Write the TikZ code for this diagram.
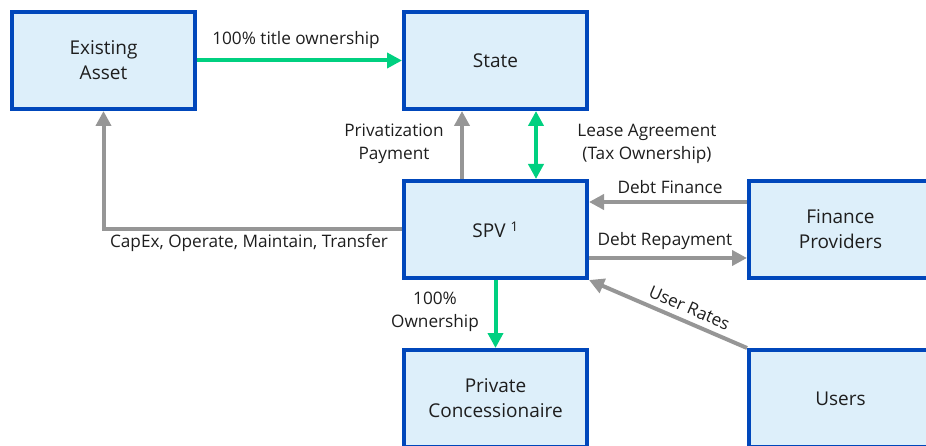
\documentclass[tikz,border=0pt]{standalone}
\usepackage{fontspec}
\setmainfont{Open Sans}
\usetikzlibrary{arrows.meta}
\definecolor{boxblue}{RGB}{0,71,187}
\definecolor{boxfill}{RGB}{221,239,250}
\definecolor{flowgray}{RGB}{150,150,150}
\definecolor{flowgreen}{RGB}{0,208,128}
\definecolor{inktext}{RGB}{30,30,30}
\begin{document}
\begin{tikzpicture}[x=1pt,y=-1pt,
  box/.style={draw=boxblue, line width=4pt, fill=boxfill,
    minimum width=183pt, minimum height=97pt, inner sep=0pt,
    align=center, text=inktext, font=\fontsize{19}{25}\selectfont},
  lbl/.style={align=center, text=inktext, inner sep=1pt,
    font=\fontsize{17.2}{23}\selectfont},
  flow/.style={line width=4pt, -{Triangle[length=15pt,width=15pt]}},
  twoway/.style={line width=4pt, {Triangle[length=15pt,width=15pt]}-{Triangle[length=15pt,width=15pt]}}]
\useasboundingbox (0,0) rectangle (926,446);
\clip (0,0) rectangle (926,446);

% boxes
\node[box] (ea)    at (103.5,60.5)  {Existing\\Asset};
\node[box] (state) at (495.5,60.5)  {State};
\node[box] (spv)   at (495.5,229.5) {SPV \textsuperscript{1}};
\node[box] (fp)    at (840.5,229.5) {Finance\\Providers};
\node[box] (pc)    at (495.5,398.5) {Private\\Concessionaire};
\node[box] (users) at (840.5,398.5) {Users};

% connectors
\draw[flow, flowgreen] (ea.east) -- (state.west);
\draw[flow, flowgray] ([xshift=-33.5pt]spv.north) -- ([xshift=-33.5pt]state.south);
\draw[twoway, flowgreen] ([xshift=40.5pt]spv.north) -- ([xshift=40.5pt]state.south);
\draw[flow, flowgray] (spv.west) -| (ea.south);
\draw[flow, flowgray] ([yshift=27.5pt]fp.west) -- ([yshift=27.5pt]spv.east);
\draw[flow, flowgray] ([yshift=-28.5pt]spv.east) -- ([yshift=-28.5pt]fp.west);
\draw[flow, flowgray] (users.north west) -- node[lbl, sloped, above=5pt, pos=0.40] (lur) {User Rates} (spv.south east);
\draw[flow, flowgreen] (spv.south) -- (pc.north);

% labels
\node[lbl] (ltitle) at (296,40)  {100\% title ownership};
\node[lbl] (lpriv)  at (394,144) {Privatization\\Payment};
\node[lbl] (llease) at (647,144) {Lease Agreement\\(Tax Ownership)};
\node[lbl] (lcapex) at (249,243) {CapEx, Operate, Maintain, Transfer};
\node[lbl] (ldebtf) at (670,187) {Debt Finance};
\node[lbl] (ldebtr) at (665,241) {Debt Repayment};
\node[lbl] (lown)   at (435,312) {100\%\\Ownership};
\end{tikzpicture}
\end{document}
